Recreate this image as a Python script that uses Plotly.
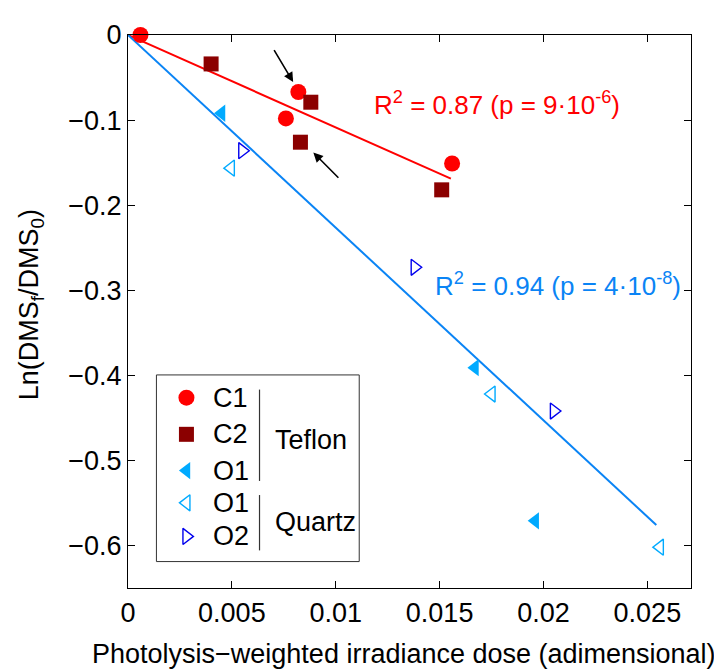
import plotly.graph_objects as go

# ---- data ----
c1_x = [0.0006, 0.0082, 0.0076, 0.0156]
c1_y = [0.000, -0.067, -0.098, -0.151]
c2_x = [0.0040, 0.0088, 0.0083, 0.0151]
c2_y = [-0.034, -0.079, -0.126, -0.182]
o1t_x = [0.0045, 0.0167, 0.0196]
o1t_y = [-0.092, -0.391, -0.571]
o1q_x = [0.00495, 0.0175, 0.0256]
o1q_y = [-0.1565, -0.422, -0.602]
o2q_x = [0.0055, 0.0138, 0.0205]
o2q_y = [-0.136, -0.273, -0.442]

# regression lines through origin (slopes)
red_slope = -10.86
red_xend = 0.01554
blue_slope = -22.65
blue_xend = 0.02543

x_ticks = [0, 0.005, 0.01, 0.015, 0.02, 0.025]
x_ticklabels = ["0", "0.005", "0.01", "0.015", "0.02", "0.025"]
y_ticks = [0, -0.1, -0.2, -0.3, -0.4, -0.5, -0.6]
y_ticklabels = ["0", "\u22120.1", "\u22120.2", "\u22120.3", "\u22120.4", "\u22120.5", "\u22120.6"]

# arrows (head, tail) in data units
arrows = [((0.00795, -0.0552), (0.00699, -0.0161)),
          ((0.00892, -0.1381), (0.0102, -0.1695))]

RED = "#FF0000"
DARKRED = "#8B0000"
LIGHTBLUE = "#00AAFF"
BLUE = "#0000EE"
LINEBLUE = "#0A84F5"
FONT = "Liberation Sans"
FS = 27

fig = go.Figure()

fig.add_trace(go.Scatter(x=[0, red_xend], y=[0, red_slope * red_xend], mode="lines",
                         line=dict(color=RED, width=2), showlegend=False, cliponaxis=False))
fig.add_trace(go.Scatter(x=[0, blue_xend], y=[0, blue_slope * blue_xend], mode="lines",
                         line=dict(color=LINEBLUE, width=2), showlegend=False, cliponaxis=False))

def pts(x, y, symbol, color, size, open_=False):
    if open_:
        m = dict(symbol=symbol, size=size, color=color,
                 line=dict(color=color, width=1.4))
    else:
        m = dict(symbol=symbol, size=size, color=color, line=dict(width=0))
    return go.Scatter(x=x, y=y, mode="markers", marker=m, showlegend=False, cliponaxis=False)

fig.add_trace(pts(c1_x, c1_y, "circle", RED, 16))
fig.add_trace(pts(c2_x, c2_y, "square", DARKRED, 15))
fig.add_trace(pts(o1t_x, o1t_y, "triangle-left", LIGHTBLUE, 15))
fig.add_trace(pts(o1q_x, o1q_y, "triangle-left-open", LIGHTBLUE, 14, True))
fig.add_trace(pts(o2q_x, o2q_y, "triangle-right-open", BLUE, 14, True))

# ---- custom legend on overlay axes (0..1) ----
leg_mx = 0.1038
leg_rows = [0.3441, 0.2779, 0.2124, 0.1540, 0.0933]
leg_names = ["C1", "C2", "O1", "O1", "O2"]
leg_styles = [("circle", RED, 16, False), ("square", DARKRED, 15, False),
              ("triangle-left", LIGHTBLUE, 15, False),
              ("triangle-left-open", LIGHTBLUE, 14, True),
              ("triangle-right-open", BLUE, 14, True)]
for yy, (sym, col, sz, op) in zip(leg_rows, leg_styles):
    tr = pts([leg_mx], [yy], sym, col, sz, op)
    tr.update(xaxis="x2", yaxis="y2")
    fig.add_trace(tr)

shapes = [
    dict(type="rect", xref="paper", yref="paper", x0=0.0505, x1=0.4107, y0=0.0478, y1=0.3853,
         line=dict(color="#333333", width=1), fillcolor="white", layer="below"),
    dict(type="line", xref="paper", yref="paper", x0=0.2336, x1=0.2336, y0=0.1936, y1=0.3588,
         line=dict(color="#333333", width=1.2)),
    dict(type="line", xref="paper", yref="paper", x0=0.2336, x1=0.2336, y0=0.0680, y1=0.1681,
         line=dict(color="#333333", width=1.2)),
]

annotations = []
for yy, nm in zip(leg_rows, leg_names):
    annotations.append(dict(xref="paper", yref="paper", x=0.1483, y=yy, text=nm, showarrow=False,
                            xanchor="left", yanchor="middle", font=dict(family=FONT, size=FS, color="black")))
annotations.append(dict(xref="paper", yref="paper", x=0.2578, y=0.2673, text="Teflon", showarrow=False,
                        xanchor="left", yanchor="middle", font=dict(family=FONT, size=FS, color="black")))
annotations.append(dict(xref="paper", yref="paper", x=0.2578, y=0.1198, text="Quartz", showarrow=False,
                        xanchor="left", yanchor="middle", font=dict(family=FONT, size=FS, color="black")))

annotations.append(dict(xref="paper", yref="paper", x=0.433, y=0.877,
                        text="R<sup>2</sup> = 0.87 (p = 9\u00b710<sup>-6</sup>)", showarrow=False,
                        xanchor="left", yanchor="middle", font=dict(family=FONT, size=26, color=RED)))
annotations.append(dict(xref="paper", yref="paper", x=0.541, y=0.549,
                        text="R<sup>2</sup> = 0.94 (p = 4\u00b710<sup>-8</sup>)", showarrow=False,
                        xanchor="left", yanchor="middle", font=dict(family=FONT, size=26, color=LINEBLUE)))

for (hx, hy), (tx, ty) in arrows:
    annotations.append(dict(x=hx, y=hy, ax=tx, ay=ty, xref="x", yref="y", axref="x", ayref="y",
                            text="", showarrow=True, arrowhead=2, arrowsize=1.2, arrowwidth=1.6,
                            arrowcolor="black"))

annotations.append(dict(xref="paper", yref="paper", x=0.49, y=-0.119,
                        text="Photolysis\u2212weighted irradiance dose (adimensional)", showarrow=False,
                        xanchor="center", yanchor="middle", font=dict(family=FONT, size=FS, color="black")))
annotations.append(dict(xref="paper", yref="paper", x=-0.171, y=0.5127, textangle=-90,
                        text="Ln(DMS<sub>f</sub>/DMS<sub>0</sub>)", showarrow=False,
                        xanchor="center", yanchor="middle", font=dict(family=FONT, size=FS, color="black")))

axis_common = dict(showgrid=False, zeroline=False, showline=True, linecolor="black", linewidth=1.2,
                   mirror="allticks", ticks="inside", ticklen=7, tickwidth=1.2, tickcolor="black",
                   tickfont=dict(family=FONT, size=FS, color="black"))

fig.update_layout(
    width=714, height=663,
    margin=dict(l=120, r=31, t=15, b=83),
    paper_bgcolor="white", plot_bgcolor="white",
    xaxis=dict(range=[0, 0.0271], tickvals=x_ticks, ticktext=x_ticklabels, **axis_common),
    yaxis=dict(range=[-0.65, 0], tickvals=y_ticks, ticktext=y_ticklabels, **axis_common),
    xaxis2=dict(overlaying="x", range=[0, 1], visible=False),
    yaxis2=dict(overlaying="y", range=[0, 1], visible=False),
    shapes=shapes, annotations=annotations, showlegend=False,
)

fig.write_html("out.html")
